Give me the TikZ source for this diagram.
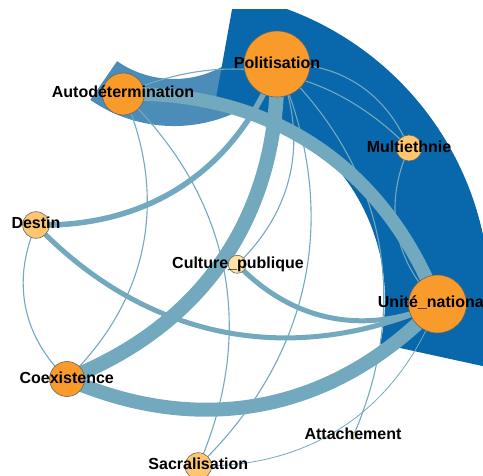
\documentclass[tikz,border=0pt]{standalone}
\usepackage{fontspec}
\setmainfont{Liberation Sans}
\pgfdeclarelayer{wedges}
\pgfdeclarelayer{links}
\pgfsetlayers{wedges,links,main}
\definecolor{wedgedark}{HTML}{0967AB}
\definecolor{wedgemid}{HTML}{4B8CB8}
\definecolor{linkc}{HTML}{73A9BE}
\definecolor{nodeorange}{HTML}{F99B2B}
\definecolor{nodelight}{HTML}{FEC66F}
\definecolor{nodepale}{HTML}{FFE3A6}
\definecolor{nodepaler}{HTML}{FAF4C4}
\begin{document}
\begin{tikzpicture}[x=1pt,y=-1pt,
  nd/.style={circle,draw=black!60,line width=0.6pt,inner sep=0pt},
  bignd/.style={nd,fill=nodeorange},
  midnd/.style={nd,fill=nodelight},
  palend/.style={nd,fill=nodepale},
  lbl/.style={anchor=base,inner sep=0pt,font=\bfseries\fontsize{16}{16}\selectfont},
  lk/.style={draw=linkc,line cap=butt},
  weak/.style={lk,line width=1.1pt},
  faint/.style={lk,line width=0.8pt},
  bl/.style={bend left=35},
  br/.style={bend right=35}
]
\useasboundingbox (0,0) rectangle (483,476);

% nodes
\node[bignd,minimum size=66pt] (pol) at (277,64) {};
\node[bignd,minimum size=42pt] (auto) at (123.3,94) {};
\node[midnd,minimum size=26pt] (multi) at (409,148) {};
\node[midnd,minimum size=26.6pt] (destin) at (36,225) {};
\node[palend,minimum size=18pt] (cult) at (237.3,264.3) {};
\node[bignd,minimum size=58pt] (unite) at (437.5,304) {};
\node[bignd,minimum size=35pt] (coex) at (67,379) {};
\node[midnd,minimum size=26.6pt] (sacral) at (198.3,466) {};
\node[nd,draw=black!30,fill=nodepaler,minimum size=7pt] (attach) at (353.3,436) {};

% labels
\node[lbl] (lpol) at (277,68.3) {Politisation};
\node[lbl] (lauto) at (123,97.5) {Autodétermination};
\node[lbl] (lmulti) at (409,152.3) {Multiethnie};
\node[lbl] (ldestin) at (36,229) {Destin};
\node[lbl] (lcult) at (238,268.7) {Culture\_publique};
\node[lbl] (lunite) at (437.5,308) {Unité\_nationale};
\node[lbl] (lcoex) at (66.7,383.3) {Coexistence};
\node[lbl] (lsacral) at (198.3,469.5) {Sacralisation};
\node[lbl] (lattach) at (353,439) {Attachement};

% links
\begin{pgfonlayer}{links}
\draw[lk,line width=14.5pt] (pol.center) to[bl] (coex.center);
\draw[lk,line width=14pt] (coex.center) to[br] (unite.center);
\draw[lk,line width=13.5pt] (auto.center) to[bl] (unite.center);
\draw[lk,line width=5.5pt] (pol.center) to[bl] (destin.center);
\draw[lk,line width=5pt] (destin.center) to[br] (unite.center);
\draw[lk,line width=5pt] (cult.center) to[br] (unite.center);
\draw[weak] (auto.center) to[bl] (multi.center);
\draw[weak] (pol.center) to[bl] (multi.center);
\draw[weak] (multi.center) to[br] (unite.center);
\draw[weak] (pol.center) to[bl] (cult.center);
\draw[weak] (pol.center) to[bl] (sacral.center);
\draw[weak] (pol.center) to[bl] (attach.center);
\draw[weak] (auto.center) to[bl] (coex.center);
\draw[weak] (auto.center) to[bl] (sacral.center);
\draw[weak] (destin.center) to[br] (coex.center);
\draw[faint] (sacral.center) to[br] (unite.center);
\end{pgfonlayer}

% wedges
\begin{pgfonlayer}{wedges}
\begin{scope}
\clip (0,10) rectangle (483,476);
\fill[wedgemid] (117.1,61.2) -- (90.3,99.9) arc[start angle=124.7,end angle=56,radius=147]
  -- (229.9,61.9) arc[start angle=56,end angle=124.7,radius=100] -- cycle;
\fill[wedgedark] (216.1,98.2) -- (234.6,-5.1) arc[start angle=-79.85,end angle=12.3,radius=310]
  -- (380.3,343.7) arc[start angle=12.3,end angle=-79.85,radius=205] -- cycle;
\end{scope}
\end{pgfonlayer}
\end{tikzpicture}
\end{document}
